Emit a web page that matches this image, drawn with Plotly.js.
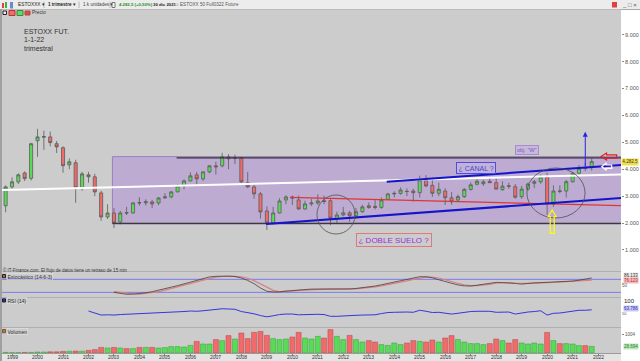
<!DOCTYPE html>
<html><head><meta charset="utf-8">
<script src="https://cdn.plot.ly/plotly-3.0.1.min.js"></script>
<style>html,body{margin:0;padding:0;background:#fff;}#chart{width:640px;height:361px;}</style>
</head><body><div id="chart"></div>
<script>
// ---------- DATA ----------
const quarterStarts = ['1998-10-01',
'1999-01-01','1999-04-01','1999-07-01','1999-10-01','2000-01-01','2000-04-01','2000-07-01','2000-10-01',
'2001-01-01','2001-04-01','2001-07-01','2001-10-01','2002-01-01','2002-04-01','2002-07-01','2002-10-01',
'2003-01-01','2003-04-01','2003-07-01','2003-10-01','2004-01-01','2004-04-01','2004-07-01','2004-10-01',
'2005-01-01','2005-04-01','2005-07-01','2005-10-01','2006-01-01','2006-04-01','2006-07-01','2006-10-01',
'2007-01-01','2007-04-01','2007-07-01','2007-10-01','2008-01-01','2008-04-01','2008-07-01','2008-10-01',
'2009-01-01','2009-04-01','2009-07-01','2009-10-01','2010-01-01','2010-04-01','2010-07-01','2010-10-01',
'2011-01-01','2011-04-01','2011-07-01','2011-10-01','2012-01-01','2012-04-01','2012-07-01','2012-10-01',
'2013-01-01','2013-04-01','2013-07-01','2013-10-01','2014-01-01','2014-04-01','2014-07-01','2014-10-01',
'2015-01-01','2015-04-01','2015-07-01','2015-10-01','2016-01-01','2016-04-01','2016-07-01','2016-10-01',
'2017-01-01','2017-04-01','2017-07-01','2017-10-01','2018-01-01','2018-04-01','2018-07-01','2018-10-01',
'2019-01-01','2019-04-01','2019-07-01','2019-10-01','2020-01-01','2020-04-01','2020-07-01','2020-10-01',
'2021-01-01','2021-04-01','2021-07-01','2021-10-01'];

const openP = [2640,3342,3530,3860,3660, 5060,5190,5200,4950, 4800,4160,4240,3306, 3790,3716,3119,2224,
 2373,2037,2385,2373, 2760,2750,2783,2746, 2932,2970,3156,3380, 3566,3790,3640,3902, 4126,4126,4460,4400,
 4425,3492,3343,3082, 2448,2000,2373,2858, 2967,2858,2522,2709, 2746,2830,2830,2150, 2300,2380,2270,2420,
 2640,2620,2580,2880, 3080,3100,3175,3190, 3127,3575,3400,3105, 3190,2940,2855,2980, 3250,3440,3460,3550,
 3500,3240,3380,3350, 2980,3260,3475,3536, 3711,2690,3190,3190, 3536,3850,4050,4060];
const highP = [3400,3700,3850,3920,4980, 5500,5430,5400,5050, 4850,4400,4350,3900, 3900,3830,3200,2700,
 2560,2450,2600,2780, 2960,2880,2860,2960, 3110,3190,3450,3620, 3880,3900,3910,4150, 4280,4610,4560,4540,
 4450,3900,3450,3150, 2620,2600,2920,3030, 3020,3020,2830,2900, 3070,3020,2900,2420, 2600,2450,2560,2680,
 2760,2850,2950,3120, 3180,3320,3290,3270, 3760,3780,3680,3500, 3290,3150,3050,3300, 3510,3670,3600,3700,
 3650,3550,3500,3450, 3380,3500,3600,3800, 3870,3400,3400,3600, 3900,4150,4250,4400];
const lowP = [2400,3270,3450,3560,3580, 4460,4720,4850,4600, 3870,4000,2750,3200, 3500,3000,2085,2150,
 1815,1950,2300,2350, 2650,2650,2560,2660, 2900,2920,3150,3250, 3550,3400,3570,3850, 3800,4070,4000,4200,
 3430,3300,2900,2165, 1740,1950,2350,2700, 2670,2490,2490,2630, 2670,2700,1920,2000, 2250,2050,2150,2380,
 2530,2500,2530,2860, 2950,3050,3000,2790, 2950,3330,2970,3000, 2670,2680,2800,2930, 3200,3400,3380,3480,
 3250,3200,3270,2900, 2900,3200,3300,3460, 2300,2600,3100,2950, 3500,3800,3930,3950];
const closeP = [3342,3530,3790,3650,4946, 5200,5210,4990,4830, 4130,4275,3306,3827, 3720,3156,2224,2373,
 2000,2373,2373,2746, 2746,2790,2709,2932, 2970,3156,3380,3566, 3753,3640,3902,4126, 4090,4462,4390,4425,
 3530,3343,3082,2410, 2000,2373,2820,2970, 2930,2522,2709,2746, 2820,2800,2180,2300, 2380,2270,2420,2600,
 2575,2580,2855,3080, 3100,3228,3170,3127, 3600,3376,3105,3254, 2940,2790,2980,3250, 3420,3550,3530,3500,
 3260,3370,3370,2960, 3260,3450,3536,3711, 2707,3190,3180,3536, 3850,4035,4035,4282.5];

const volume = [3,2,2,3,3, 5,5,6,6, 8,9,10,9, 13,17,28,25, 28,25,22,22, 28,28,28,25, 27,32,32,30,
 38,58,45,45, 67,62,87,70, 100,72,103,108, 88,72,67,70, 80,103,75,70, 83,75,117,83, 67,88,67,55,
 62,55,42,38, 50,42,50,62, 58,55,65,55, 75,87,67,55, 47,47,42,47, 70,62,50,67, 50,45,50,45,
 103,62,47,47, 45,37,37,33];

const rsiStart = '2002-01-01';
const rsi14 = [59,50,43,44, 43,45,46,48, 49,50,50,52, 53,54,56,57, 59,58,60,63, 66,68,67,66,
 57,53,48,41, 36,40,45,47, 47,44,45,46, 46,45,38,38, 40,40,42,43, 44,44,49,53, 54,55,55,54,
 62,58,53,54, 49,47,50,54, 57,58,59,58, 54,55,55,47, 52,55,57,60, 43,50,51,55, 59,62,62,63.8];

const stochStart = '2003-01-01';
const stochK = [20,15,11,12, 14,18,23,29, 37,44,51,59, 67,77,85,91, 94,95,95,93, 86,75,60,40,
 25,22,22,26, 29,31,33,35, 35,35,34,34, 34,36,38,41, 45,49,55,61, 67,72,80,87, 92,92,87,78,
 69,60,54,50, 49,53,57,62, 66,65,64,61, 58,62,64,65, 66,68,69,70, 72,76,80,86.1];
const stochD = [23,19,15,13, 12,15,18,23, 30,37,44,51, 59,68,76,84, 90,93,95,94, 91,85,74,58,
 42,29,23,23, 26,29,31,33, 34,35,35,34, 34,35,36,38, 41,45,50,55, 61,67,73,80, 86,90,90,86,
 78,69,61,55, 51,51,53,57, 62,64,65,63, 61,61,61,64, 65,66,68,69, 70,73,75,76.1];

const priceTickVals = [1000,2000,3000,4000,5000,6000,7000,8000,9000];
const priceTickText = ['1.000','2.000','3.000','4.000','5.000','6.000','7.000','8.000','9.000'];
const yearTickVals = ['1999-01-01','2000-01-01','2001-01-01','2002-01-01','2003-01-01','2004-01-01',
 '2005-01-01','2006-01-01','2007-01-01','2008-01-01','2009-01-01','2010-01-01','2011-01-01','2012-01-01',
 '2013-01-01','2014-01-01','2015-01-01','2016-01-01','2017-01-01','2018-01-01','2019-01-01','2020-01-01',
 '2021-01-01','2022-01-01'];
const yearTickText = ['1999','2000','2001','2002','2003','2004','2005','2006','2007','2008','2009','2010',
 '2011','2012','2013','2014','2015','2016','2017','2018','2019','2020','2021','2022'];

// ---------- LAYOUT HELPERS ----------
const W = 640, H = 361, ML = 2, MR = 19, MT = 10, MB = 8;
const PW = W - ML - MR, PH = H - MT - MB;
const px = x => (x - ML) / PW;
const py = y => (H - MB - y) / PH;
const FONT = 'Liberation Sans, Arial, sans-serif';

const rsiDates = quarterStarts.slice(quarterStarts.indexOf(rsiStart));
const stochDates = quarterStarts.slice(quarterStarts.indexOf(stochStart));
const upColor = '#58dc58', downColor = '#f26a6a';
const volColors = closeP.map((c, i) => c >= openP[i] ? upColor : downColor);
const volLines = closeP.map((c, i) => c >= openP[i] ? '#3a9a3a' : '#b04848');

function label(x, y, text, size, color, extra) {
  return Object.assign({xref:'paper', yref:'paper', x:px(x), y:py(y), text:text, showarrow:false,
    xanchor:'left', yanchor:'middle', borderpad:0,
    font:{family:FONT, size:size, color:color}}, extra || {});
}
function prect(x0, y0, x1, y1, fill, lineColor, layer) {
  return {type:'rect', xref:'paper', yref:'paper', x0:px(x0), x1:px(x1), y0:py(y1), y1:py(y0),
    fillcolor:fill, line:{width:lineColor ? 1 : 0, color:lineColor || fill}, layer:layer || 'below'};
}
function pline(x0, y0, x1, y1, color, width, layer) {
  return {type:'line', xref:'paper', yref:'paper', x0:px(x0), x1:px(x1), y0:py(y0), y1:py(y1),
    line:{color:color, width:width}, layer:layer || 'below'};
}
function ppath(points, color) {
  const d = 'M' + points.map(p => px(p[0]).toFixed(5) + ',' + py(p[1]).toFixed(5)).join(' L') + ' Z';
  return {type:'path', xref:'paper', yref:'paper', path:d, line:{color:color, width:1.2},
    fillcolor:'rgba(0,0,0,0)', layer:'above'};
}
function dline(x0, y0, x1, y1, color, width, layer) {
  return {type:'line', xref:'x', yref:'y', x0:x0, y0:y0, x1:x1, y1:y1, line:{color:color, width:width}, layer:layer || 'above'};
}

// ---------- TRACES ----------
const traces = [
  {type:'candlestick', x:quarterStarts, open:openP, high:highP, low:lowP, close:closeP,
   xaxis:'x', yaxis:'y', whiskerwidth:0, hoverinfo:'skip', showlegend:false,
   increasing:{line:{color:'#5c5c5c', width:0.8}, fillcolor:upColor},
   decreasing:{line:{color:'#5c5c5c', width:0.8}, fillcolor:downColor}},
  {type:'scatter', mode:'lines', x:stochDates, y:stochD, xaxis:'x', yaxis:'y2',
   line:{color:'#d98080', width:1.2}, hoverinfo:'skip', showlegend:false},
  {type:'scatter', mode:'lines', x:stochDates, y:stochK, xaxis:'x', yaxis:'y2',
   line:{color:'#4a4040', width:0.8}, hoverinfo:'skip', showlegend:false},
  {type:'scatter', mode:'lines', x:rsiDates, y:rsi14, xaxis:'x', yaxis:'y3',
   line:{color:'#3535e0', width:1}, hoverinfo:'skip', showlegend:false},
  {type:'bar', x:quarterStarts, y:volume, xaxis:'x', yaxis:'y4',
   marker:{color:volColors, line:{color:volLines, width:0.5}}, hoverinfo:'skip', showlegend:false}
];

// ---------- SHAPES ----------
const shapes = [
  prect(0, 0, 640, 9.5, '#ececec'),
  pline(0, 9.5, 640, 9.5, '#a8a8a8', 1),
  prect(2, 9.5, 621, 353.5, '#cccccc'),
  prect(2, 353.5, 621, 361, '#e4e4e4'),
  pline(1, 9.5, 1, 361, '#808080', 1.5),
  pline(2, 271.5, 621, 271.5, '#b0b0b0', 1),
  pline(2, 297.5, 621, 297.5, '#b0b0b0', 1),
  pline(2, 327.5, 621, 327.5, '#b0b0b0', 1),
  pline(2, 353.5, 621, 353.5, '#9a9a9a', 1),
  prect(2, 3, 4, 8, '#e04040'), prect(5, 2, 7, 8, '#40b040'),
  prect(10, 2, 13, 8.5, '#6a8ad0'),
  pline(44, 1.5, 44, 8, '#b8b8b8', 1, 'above'), pline(79, 1.5, 79, 8, '#b8b8b8', 1, 'above'),
  pline(110, 1.5, 110, 8, '#b8b8b8', 1, 'above'),
  prect(112, 2.5, 115, 7.5, '#f8f8f8', '#777'),
  prect(612, 2, 617, 7.5, '#e04040'),
  prect(3, 11, 6.5, 14.5, '#f0f0f0', '#222'),
  prect(9, 10.5, 15, 15.5, '#e87070', '#c03030'),
  prect(17, 10.5, 23, 15.5, '#70d070', '#309030'),
  prect(25, 11, 30, 15, '#d05050', '#c04040'),
  prect(2.5, 274.5, 5.5, 277.8, '#d05050', '#222'),
  prect(2.5, 298.8, 5.5, 302, '#2828d0', '#222'),
  prect(2.5, 329.5, 5.5, 332.8, '#40b040', '#b04040'),
  {type:'line', xref:'paper', yref:'y2', x0:0, x1:1, y0:80, y1:80, line:{color:'#7a7af2', width:1}, layer:'below'},
  {type:'line', xref:'paper', yref:'y2', x0:0, x1:1, y0:20, y1:20, line:{color:'#7a7af2', width:1}, layer:'below'},
  {type:'rect', xref:'x', yref:'y', x0:'2002-12-10', x1:'2023-06-01', y0:1962, y1:4468,
   fillcolor:'#bdabd1', line:{color:'#9c7fc4', width:1}, layer:'below'},
  dline('2005-06-17', 4420, '2023-06-01', 4420, '#333333', 1.3),
  dline('2002-12-10', 1990, '2023-06-01', 1990, '#3a3a3a', 1.3),
  dline('1998-08-10', 3227, '2022-11-25', 3803, '#ffffff', 2),
  dline('2009-12-01', 2955, '2022-11-25', 2643, '#e03535', 1.3),
  dline('2008-12-20', 1963, '2022-11-25', 2930, '#1414c8', 2),
  dline('2013-09-15', 3535, '2022-11-25', 4156, '#1414c8', 2),
  {type:'circle', xref:'x', yref:'y', x0:'2010-12-20', x1:'2012-06-18', y0:1591, y1:3041,
   line:{color:'#505050', width:0.8}, layer:'above'},
  {type:'circle', xref:'x', yref:'y', x0:'2019-03-17', x1:'2021-06-28', y0:2186, y1:4045,
   line:{color:'#505050', width:0.8}, layer:'above'},
  ppath([[601,156.5],[606.5,153],[606.5,154.8],[616.7,154.8],[616.7,158.2],[606.5,158.2],[606.5,160]], '#e02020'),
  ppath([[601.7,166.7],[606,163.3],[606,165],[611.7,165],[611.7,168.4],[606,168.4],[606,170]], '#ffffff'),
  ppath([[552.2,210],[556,216.5],[554.2,216.5],[554.2,233.3],[550.2,233.3],[550.2,216.5],[548.3,216.5]], '#ffff00')
];

// ---------- ANNOTATIONS ----------
const annotations = [
  label(17, 5, 'ESTOXXX ▾', 4.8, '#222'),
  label(47, 5, '<b>1 trimestre</b> ▾', 4.6, '#222'),
  label(82, 5, '1 k unidades ▾', 4.6, '#444'),
  label(118, 5, '<b>4.282,5 (+0,50%)</b>', 4.3, '#1e8c1e'),
  label(152, 5, '<b>30 dic 2021</b>', 4.3, '#222'),
  label(175, 5, '○ ESTOXX 50 Full0322 Future', 4.6, '#555'),
  label(621, 5, '_ □ ×', 6, '#555'),
  label(31, 12.8, 'Precio', 4.8, '#333'),
  label(22.5, 31.3, 'ESTOXX FUT.', 7, '#333'),
  label(22.5, 39.7, '1-1-22', 7, '#333'),
  label(22.5, 48.3, 'trimestral', 7, '#333'),
  label(2, 270, '© IT-Finance.com. El flujo de datos tiene un retraso de 15 min', 4.5, '#333'),
  label(6.5, 276.3, 'Estocástico (14-6-3)', 5, '#333', {bordercolor:'#e6e6e6', borderwidth:0.5}),
  label(6.5, 300.5, 'RSI (14)', 5, '#333', {bordercolor:'#e6e6e6', borderwidth:0.5}),
  label(6.5, 331.2, 'Volumen', 5, '#333', {bordercolor:'#e6e6e6', borderwidth:0.5}),
  label(476, 168.3, '¿ CANAL ?', 7, '#4646d6', {xanchor:'center', bordercolor:'#4d4de0', borderwidth:1, borderpad:1.5, bgcolor:'#c3b2d8'}),
  label(393.5, 239.7, '¿ DOBLE SUELO ?', 8, '#9a2fd8', {xanchor:'center', bordercolor:'#e07a7a', borderwidth:1, borderpad:1.5}),
  label(527, 150, 'obj. "W"', 5.5, '#7a5abf', {xanchor:'center', bordercolor:'#a68bd2', borderwidth:1, borderpad:1, bgcolor:'#c8b8dc'}),
  label(621.3, 161.7, '4.282,5', 4.6, '#333', {bgcolor:'#f2e04a', borderpad:0.3}),
  label(623, 275.3, '86.133', 4.5, '#333', {bgcolor:'#ececec'}),
  label(623, 280.9, '76.123', 4.5, '#c03030', {bgcolor:'#f3b8b8'}),
  label(623, 300.7, '100', 6, '#222'),
  label(623, 308.6, '63.786', 4.5, '#3030c0', {bgcolor:'#c8c8f4'}),
  label(623, 346.7, '28.694', 4.5, '#208020', {bgcolor:'#bfe8bf'}),
  {xref:'x', yref:'y', x:'2021-07-01', y:5396, ax:0, ay:36, text:'', showarrow:true,
   arrowhead:2, arrowsize:1, arrowwidth:1, arrowcolor:'#2424ee'}
];
yearTickVals.forEach((d, i) => {
  annotations.push({xref:'x', yref:'paper', x:d, y:py(357), text:yearTickText[i], showarrow:false,
    xanchor:'center', yanchor:'middle', borderpad:0, font:{family:FONT, size:5, color:'#333'}});
});

const axisBase = {showgrid:false, zeroline:false, showline:false, fixedrange:true};
const layout = {
  width:W, height:H, margin:{l:ML, r:MR, t:MT, b:MB, pad:0},
  paper_bgcolor:'#ffffff', plot_bgcolor:'rgba(0,0,0,0)', showlegend:false,
  font:{family:FONT, size:5.5, color:'#444'},
  bargap:0.2,
  xaxis: Object.assign({}, axisBase, {type:'date', anchor:'y4', domain:[0,1],
    range:['1998-08-10','2022-11-25'], tickvals:yearTickVals, ticktext:yearTickText,
    showticklabels:false, ticks:'outside', ticklen:1.5, tickcolor:'#888',
    rangeslider:{visible:false}}),
  yaxis: Object.assign({}, axisBase, {domain:[py(271), 1], range:[216, 9918], side:'right', anchor:'x',
    tickvals:priceTickVals, ticktext:priceTickText, ticks:'outside', ticklen:2, tickcolor:'#888',
    tickfont:{family:FONT, size:5.5, color:'#555'}}),
  yaxis2: Object.assign({}, axisBase, {domain:[py(297), py(272)], range:[-1.4, 113.8], side:'right', anchor:'x',
    tickvals:[50], ticktext:['50'], ticks:'', tickfont:{family:FONT, size:4.5, color:'#555'}}),
  yaxis3: Object.assign({}, axisBase, {domain:[py(327), py(298)], range:[-4.4, 110.7], side:'right', anchor:'x',
    tickvals:[50], ticktext:['50'], ticks:'', tickfont:{family:FONT, size:4, color:'#555'}}),
  yaxis4: Object.assign({}, axisBase, {domain:[0, py(328)], range:[0, 125], side:'right', anchor:'x',
    tickvals:[95], ticktext:['1004'], ticks:'outside', ticklen:2, tickcolor:'#888',
    tickfont:{family:FONT, size:4.5, color:'#555'}}),
  shapes: shapes,
  annotations: annotations
};

Plotly.newPlot('chart', traces, layout, {displayModeBar:false, staticPlot:true});
</script>
</body></html>
